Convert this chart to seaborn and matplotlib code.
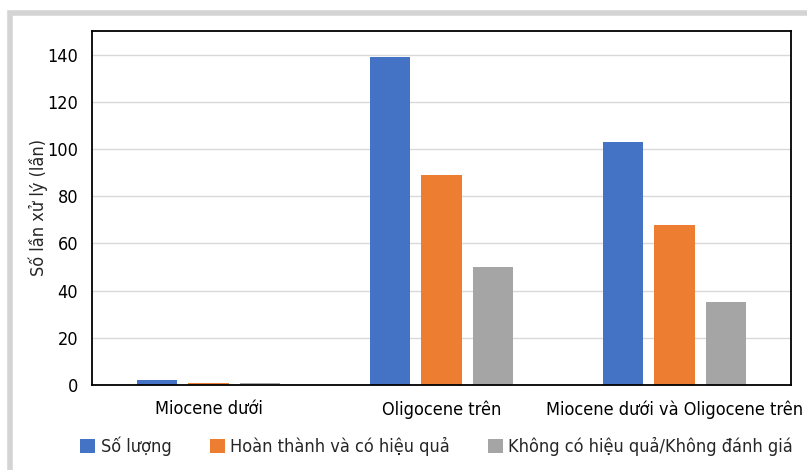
import pandas as pd
import seaborn as sns
import matplotlib.pyplot as plt
from matplotlib.patches import Rectangle

# data
categories = ['Miocene dưới', 'Oligocene trên', 'Miocene dưới và Oligocene trên']
series = ['Số lượng', 'Hoàn thành và có hiệu quả', 'Không có hiệu quả/Không đánh giá']
so_luong = [2, 139, 103]
hoan_thanh = [1, 89, 68]
khong_hieu_qua = [1, 50, 35]
colors = ['#4472C4', '#ED7D31', '#A5A5A5']

df = pd.DataFrame({
    'category': categories * 3,
    'series': [series[0]] * 3 + [series[1]] * 3 + [series[2]] * 3,
    'value': so_luong + hoan_thanh + khong_hieu_qua,
})

sns.set_style('white')
plt.rcParams['font.family'] = ['DejaVu Sans']
plt.rcParams['font.stretch'] = 'condensed'

fig = plt.figure(figsize=(8.07, 4.70), dpi=100)
ax = fig.add_axes([92 / 807, 1 - 385 / 470, (791 - 92) / 807, (385 - 31) / 470])

# light gray frame around the chart area
fig.patches.append(Rectangle((10 / 807, -0.1), 1.2, 1.1 - 13.5 / 470, transform=fig.transFigure,
                             fill=False, edgecolor='#D4D4D4', linewidth=4, zorder=0))

sns.barplot(data=df, x='category', y='value', hue='series', palette=colors,
            width=0.657, gap=0.216, ax=ax, zorder=3, saturation=1, linewidth=0)

ax.set_ylim(0, 150)
ax.set_yticks(range(0, 141, 20))
ax.set_xlim(-0.5, 2.5)
ax.yaxis.grid(True, color='#D9D9D9', linewidth=1, zorder=0)
ax.set_axisbelow(True)
for s in ax.spines.values():
    s.set_color('black')
    s.set_linewidth(1.3)
    s.set_zorder(5)
ax.tick_params(axis='both', length=0, labelsize=13, colors='black')
ax.tick_params(axis='x', pad=11)
ax.tick_params(axis='y', pad=10)
ax.set_xlabel('')
ax.set_ylabel('Số lần xử lý (lần)', fontsize=13)
ax.yaxis.set_label_coords(-0.063, 0.5)

handles, labels = ax.get_legend_handles_labels()
ax.legend(handles, labels, loc='upper center', bbox_to_anchor=(0.493, -0.125), ncol=3,
          frameon=False, fontsize=13, handlelength=0.83, handleheight=0.83,
          handletextpad=0.3, columnspacing=2.1, borderaxespad=0)

fig.savefig('out.png', dpi=100)
